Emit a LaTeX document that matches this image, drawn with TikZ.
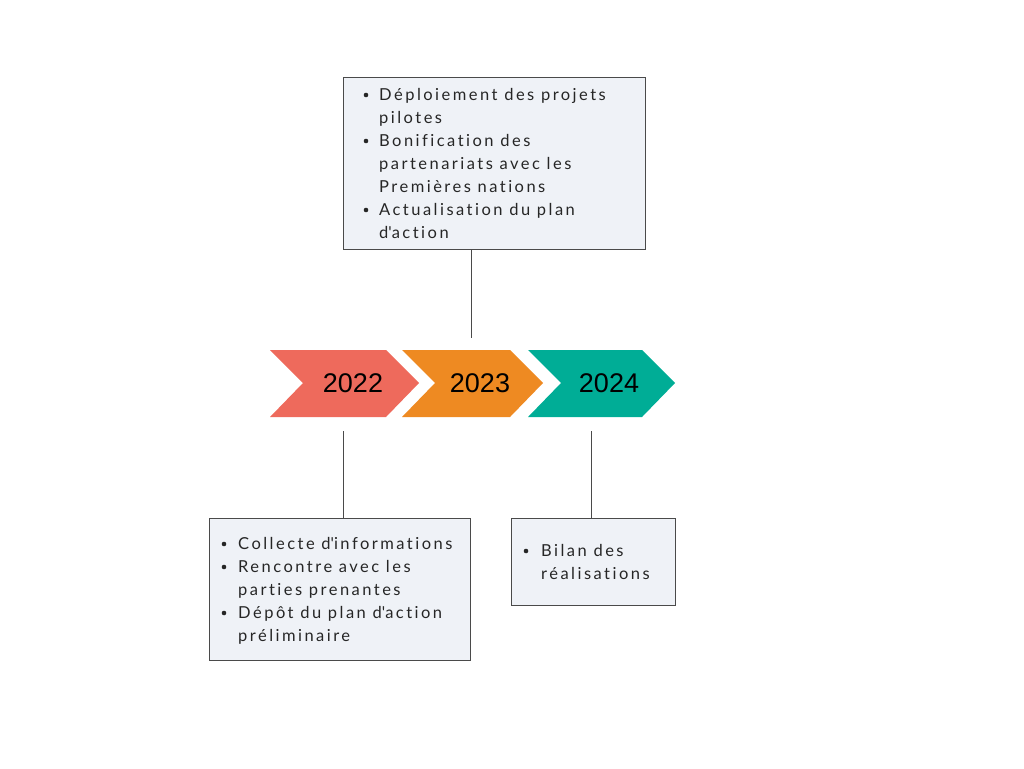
\documentclass[tikz,border=0pt]{standalone}
\usepackage{fontspec}
\setmainfont{Lato}[LetterSpace=15,Ligatures={NoCommon}]
\newfontfamily\yearfont{Liberation Sans}
\definecolor{cRed}{HTML}{EE6A5C}
\definecolor{cOrange}{HTML}{EE8A22}
\definecolor{cTeal}{HTML}{00AD96}
\definecolor{cBox}{HTML}{EFF2F7}
\definecolor{cLine}{HTML}{4A4A4A}
\newcommand{\apos}{\textquotesingle}
\begin{document}
\begin{tikzpicture}[x=1pt,y=-1pt,
  txt/.style={anchor=base west,inner sep=0pt,font=\fontsize{16.5}{19}\selectfont,text=black!85},
  year/.style={inner sep=0pt,font=\yearfont\fontsize{27}{30}\selectfont,text=black},
  infobox/.style={draw=cLine,fill=cBox,line width=0.8pt},
  conn/.style={draw=cLine,line width=0.8pt},
  dot/.style={circle,fill=black!85,inner sep=0pt,minimum size=4.6pt}]
\useasboundingbox (0,0) rectangle (1024,768);
% chevrons
\fill[cRed] (270,350) -- (386,350) -- (419,383) -- (386,417) -- (270,417) -- (303,383) -- cycle;
\fill[cOrange] (402,350) -- (510,350) -- (543,383) -- (510,417) -- (402,417) -- (435,383) -- cycle;
\fill[cTeal] (528,350) -- (642,350) -- (675,383) -- (642,417) -- (528,417) -- (561,383) -- cycle;
\node[year] (y22) at (353,383) {2022};
\node[year] (y23) at (480,383) {2023};
\node[year] (y24) at (609,383) {2024};
% boxes
\node[infobox,minimum width=302pt,minimum height=172pt,anchor=north west] (btop) at (343,77) {};
\node[infobox,minimum width=261pt,minimum height=142pt,anchor=north west] (bleft) at (209,518) {};
\node[infobox,minimum width=164pt,minimum height=87pt,anchor=north west] (bright) at (511,518) {};
% connectors
\coordinate (ctop) at (471,338);
\coordinate (cleft) at (343,431);
\coordinate (cright) at (591,431);
\draw[conn] (btop.south -| ctop) -- (ctop);
\draw[conn] (cleft) -- (bleft.north -| cleft);
\draw[conn] (cright) -- (bright.north -| cright);
% top text
\node[dot] (d1) at (366,95) {};
\node[txt] (t1) at (379,100) {Déploiement des projets};
\node[txt] (t2) at (379,123) {pilotes};
\node[dot] (d2) at (366,141) {};
\node[txt] (t3) at (379,146) {Bonification des};
\node[txt] (t4) at (379,169) {partenariats avec les};
\node[txt] (t5) at (379,192) {Premières nations};
\node[dot] (d3) at (366,210) {};
\node[txt] (t6) at (379,215) {Actualisation du plan};
\node[txt] (t7) at (379,238) {d\apos action};
% bottom left text
\node[dot] (d4) at (224,544) {};
\node[txt] (l1) at (238,549) {Collecte d\apos informations};
\node[dot] (d5) at (224,567) {};
\node[txt] (l2) at (238,572) {Rencontre avec les};
\node[txt] (l3) at (238,595) {parties prenantes};
\node[dot] (d6) at (224,613) {};
\node[txt] (l4) at (238,618) {Dépôt du plan d\apos action};
\node[txt] (l5) at (238,641) {préliminaire};
% bottom right text
\node[dot] (d7) at (526,551) {};
\node[txt] (r1) at (541,556) {Bilan des};
\node[txt] (r2) at (541,579) {réalisations};
\end{tikzpicture}
\end{document}
